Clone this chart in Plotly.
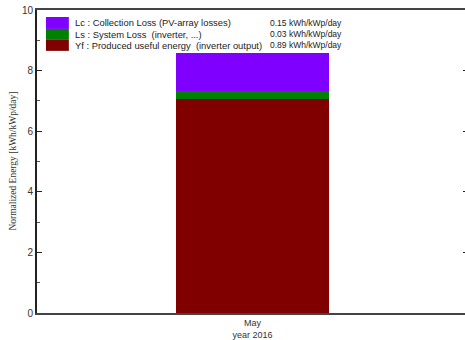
import plotly.graph_objects as go

# Monthly normalized energy components (kWh/kWp/day)
months = ["May"]
month_labels = ["May<br>year 2016"]
yf_values = [7.07]   # produced useful energy
ls_values = [0.25]   # system loss
lc_values = [1.27]   # collection loss

legend_names = [
    "Lc : Collection Loss (PV-array losses)",
    "Ls : System Loss  (inverter, ...)",
    "Yf : Produced useful energy  (inverter output)",
]
legend_values = ["0.15 kWh/kWp/day", "0.03 kWh/kWp/day", "0.89 kWh/kWp/day"]
colors = ["#8000ff", "#008000", "#800000"]

fig = go.Figure()
for name, vals, col in [
    ("Yf", yf_values, colors[2]),
    ("Ls", ls_values, colors[1]),
    ("Lc", lc_values, colors[0]),
]:
    fig.add_trace(go.Bar(x=months, y=vals, name=name, marker=dict(color=col, line=dict(width=0)),
                         width=0.353, showlegend=False))

W, H = 470, 340
L, R, T, B = 37, 0, 10, 26
pw, ph = W - L - R, H - T - B

def px_x(x):
    return (x - L) / pw

def px_y(y):
    return (H - B - y) / ph

# Custom legend block with wide swatches
row_tops = [17, 29, 40]
row_bots = [29, 40, 51]
for i in range(3):
    fig.add_shape(type="rect", xref="paper", yref="paper",
                  x0=px_x(46), x1=px_x(69), y0=px_y(row_bots[i]), y1=px_y(row_tops[i]),
                  fillcolor=colors[i], line=dict(width=0))
    yc = px_y((row_tops[i] + row_bots[i]) / 2)
    fig.add_annotation(xref="paper", yref="paper", x=px_x(73), y=yc, text=legend_names[i],
                       showarrow=False, xanchor="left", yanchor="middle",
                       font=dict(family="Liberation Sans, Arial", size=9.4, color="#222"))
    fig.add_annotation(xref="paper", yref="paper", x=px_x(345), y=yc, text=legend_values[i],
                       showarrow=False, xanchor="right", yanchor="middle",
                       font=dict(family="Liberation Sans, Arial", size=8.5, color="#222"))

# Vertical axis title
fig.add_annotation(xref="paper", yref="paper", x=px_x(12), y=0.5,
                   text="Normalized Energy [kWh/kWp/day]", textangle=-90, showarrow=False,
                   xanchor="center", yanchor="middle",
                   font=dict(family="Liberation Serif, Times New Roman", size=9.5, color="#333"))

fig.update_layout(
    barmode="stack",
    width=W, height=H,
    margin=dict(l=L, r=R, t=T, b=B, pad=0),
    paper_bgcolor="white", plot_bgcolor="white",
    bargap=0,
    xaxis=dict(
        type="category", range=[-0.5, 0.5],
        tickvals=months, ticktext=month_labels,
        showline=True, linecolor="#444", linewidth=2, mirror=True,
        ticks="", showgrid=False, zeroline=False,
        tickfont=dict(family="Liberation Sans, Arial", size=9, color="#333"),
    ),
    yaxis=dict(
        range=[0, 10], tickvals=[0, 2, 4, 6, 8, 10],
        showline=True, linecolor="#222", linewidth=2, mirror="ticks",
        ticks="inside", ticklen=5, tickcolor="#222", tickwidth=1,
        minor=dict(tickvals=[1, 3, 5, 7, 9], ticks="inside", ticklen=3, tickcolor="#555"),
        showgrid=False, zeroline=False,
        tickfont=dict(family="Liberation Sans, Arial", size=10, color="#333"),
        ticklabelstandoff=0,
    ),
)

fig.write_html("out.html")
